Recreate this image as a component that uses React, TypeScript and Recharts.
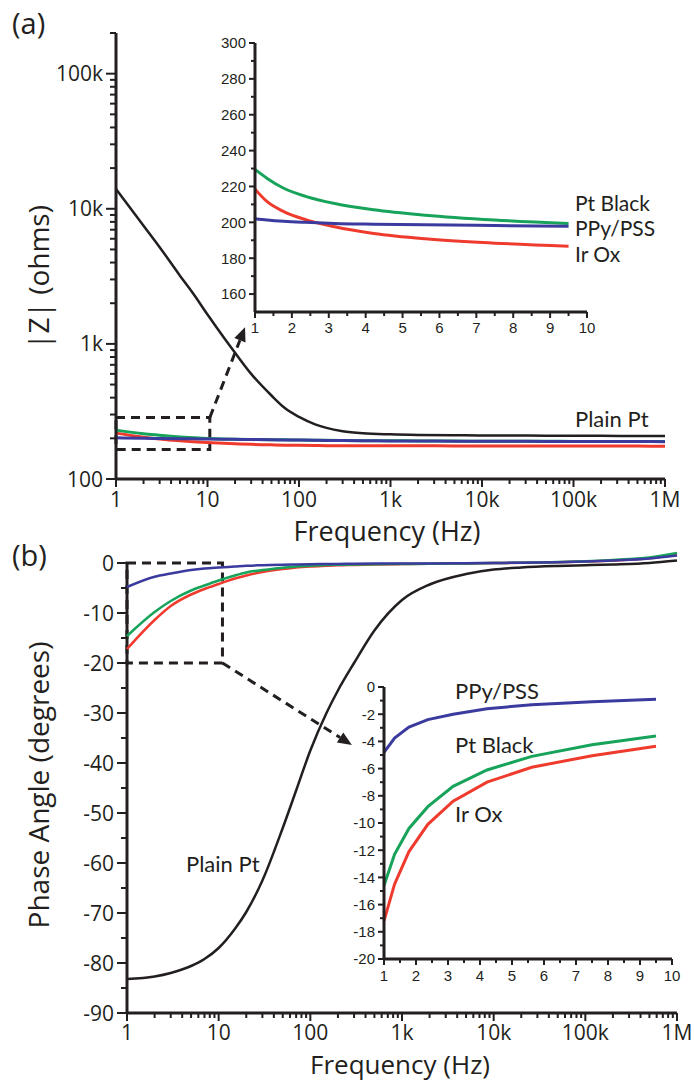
import { LineChart, Line, XAxis, YAxis, ReferenceArea, ReferenceLine } from 'recharts';

const INK = '#231f20';
const GREEN = '#17a35a';
const RED = '#ef3b2d';
const BLUE = '#3b3b9f';
const MAIN_FONT = '"Open Sans", "Noto Sans", sans-serif';
const LABEL_FONT = 'Lato, "Open Sans", sans-serif';
const INSET_FONT = '"Liberation Sans", Arial, sans-serif';

// frequency sweep (Hz)
const freq = [1, 2, 3, 5, 7, 10, 15, 20, 30, 50, 70, 100, 150, 200, 300, 500, 1000, 2000, 5000, 10000, 20000, 50000, 100000, 200000, 500000, 1000000];

// (a) impedance magnitude, ohms
const zPlainPt = [14000, 7500, 5200, 3200, 2350, 1650, 1120, 860, 600, 415, 335, 288, 254, 239, 226, 218, 214, 212, 211, 210, 210, 209, 209, 209, 208, 208];
const zPtBlack = [230, 216, 211, 205, 202, 199.3, 197.5, 196.8, 196, 195.3, 194.8, 194.3, 193.8, 193.3, 192.8, 192.3, 191.8, 191.3, 190.8, 190.4, 190.2, 190, 189.8, 189.6, 189.5, 189.3];
const zPPy = [202, 200, 199.4, 198.7, 198.3, 197.7, 197, 196.5, 195.8, 195, 194.5, 194, 193.5, 193, 192.5, 192, 191.5, 191, 190.5, 190.2, 190, 189.8, 189.6, 189.4, 189.2, 189];
const zIrOx = [218.5, 204, 197.5, 191.5, 188.7, 186.5, 184, 182.5, 180.5, 179, 178, 177.5, 177, 176.5, 176.5, 176.2, 176, 176, 175.8, 175.7, 175.6, 175.5, 175.4, 175.3, 175.2, 175];

// (b) phase angle, degrees
const phPlainPt = [-83.2, -82.7, -82, -80.6, -79.2, -77, -73.2, -69.8, -63.5, -53, -45.5, -37.5, -30, -25.5, -20, -13.5, -7.4, -4.3, -2.2, -1.3, -0.9, -0.6, -0.45, -0.3, 0, 0.5];
const phPtBlack = [-14.6, -9.8, -7.6, -5.5, -4.5, -3.5, -2.5, -1.9, -1.4, -0.95, -0.7, -0.55, -0.4, -0.35, -0.3, -0.25, -0.2, -0.15, -0.1, 0, 0.05, 0.2, 0.35, 0.6, 1.1, 2.0];
const phPPy = [-4.8, -2.75, -2.1, -1.4, -1.1, -0.9, -0.7, -0.55, -0.45, -0.35, -0.3, -0.25, -0.2, -0.18, -0.15, -0.12, -0.1, -0.08, -0.05, 0, 0.05, 0.15, 0.3, 0.5, 0.9, 1.5];
const phIrOx = [-17.2, -11.4, -8.6, -6.3, -5.2, -4.2, -3.1, -2.5, -1.8, -1.2, -0.9, -0.7, -0.55, -0.45, -0.38, -0.3, -0.22, -0.15, -0.1, -0.02, 0.05, 0.15, 0.3, 0.5, 0.95, 1.7];

// insets: 1–10 Hz on a linear axis
const insetX = [1, 1.33, 1.78, 2.37, 3.16, 4.22, 5.62, 7.5, 9.5];
const zInsetPtBlack = [229.5, 224.5, 219, 214.5, 210.5, 207, 204, 201.3, 199.3];
const zInsetPPy = [202, 201.3, 200.6, 200, 199.4, 199, 198.6, 198.2, 197.8];
const zInsetIrOx = [218.5, 211.5, 206, 201.5, 197.5, 193.8, 190.8, 188.4, 186.7];
const phInsetPtBlack = [-14.6, -12.3, -10.4, -8.8, -7.3, -6.1, -5.1, -4.25, -3.6];
const phInsetPPy = [-4.8, -3.75, -2.95, -2.4, -2.0, -1.6, -1.3, -1.08, -0.9];
const phInsetIrOx = [-17.2, -14.5, -12.1, -10.1, -8.4, -7.0, -5.9, -5.05, -4.35];

// tick values and labels
const freqMajors = [1, 10, 100, 1000, 10000, 100000, 1000000];
const freqLabels = ['1', '10', '100', '1k', '10k', '100k', '1M'];
const zMajors = [100, 1000, 10000, 100000];
const zLabels = ['100', '1k', '10k', '100k'];
const phMajors = [-90, -80, -70, -60, -50, -40, -30, -20, -10, 0];
const phLabels = ['-90', '-80', '-70', '-60', '-50', '-40', '-30', '-20', '-10', '0'];
const insetXMajors = [1, 2, 3, 4, 5, 6, 7, 8, 9, 10];
const insetXLabels = ['1', '2', '3', '4', '5', '6', '7', '8', '9', '10'];
const insetZMajors = [160, 180, 200, 220, 240, 260, 280, 300];
const insetZLabels = ['160', '180', '200', '220', '240', '260', '280', '300'];
const insetPhMajors = [-20, -18, -16, -14, -12, -10, -8, -6, -4, -2, 0];
const insetPhLabels = ['-20', '-18', '-16', '-14', '-12', '-10', '-8', '-6', '-4', '-2', '0'];

// minor tick positions
const logTicks = (lo: number, hi: number) => {
  const out: number[] = [];
  for (let d = lo; d < hi; d *= 10) for (let k = 1; k < 10; k++) out.push(d * k);
  out.push(hi);
  return out;
};
const stepTicks = (lo: number, hi: number, step: number) => {
  const out: number[] = [];
  for (let v = lo; v <= hi + 1e-9; v += step) out.push(Math.round(v * 100) / 100);
  return out;
};

const freqTicks = logTicks(1, 1000000);
const zTicks = [...logTicks(100, 100000), 200000];
const phTicks = stepTicks(-90, 0, 5);
const insetXTicks = stepTicks(1, 10, 0.5);
const insetZTicks = stepTicks(150, 300, 10).filter((v) => v > 150);
const insetPhTicks = stepTicks(-20, 0, 1);

const mainData = freq.map((f, i) => ({
  f,
  zPlainPt: zPlainPt[i], zPtBlack: zPtBlack[i], zPPy: zPPy[i], zIrOx: zIrOx[i],
  phPlainPt: phPlainPt[i], phPtBlack: phPtBlack[i], phPPy: phPPy[i], phIrOx: phIrOx[i],
}));
const insetData = insetX.map((x, i) => ({
  x,
  zPtBlack: zInsetPtBlack[i], zPPy: zInsetPPy[i], zIrOx: zInsetIrOx[i],
  phPtBlack: phInsetPtBlack[i], phPPy: phInsetPPy[i], phIrOx: phInsetIrOx[i],
}));

function BottomTick(props: any) {
  const { x = 0, y = 0, payload, majors, labels, fontSize, fontFamily, majorLen, minorLen, dy } = props;
  const i = majors.indexOf(payload.value);
  return (
    <g>
      <line x1={x} y1={y} x2={x} y2={y + (i >= 0 ? majorLen : minorLen)} stroke={INK} strokeWidth={2} />
      {i >= 0 && (
        <text x={x} y={y + dy} textAnchor="middle" fontSize={fontSize} fontFamily={fontFamily} fill={INK}>
          {labels[i]}
        </text>
      )}
    </g>
  );
}

function LeftTick(props: any) {
  const { x = 0, y = 0, payload, majors, labels, fontSize, fontFamily, majorLen, minorLen, gap } = props;
  const i = majors.indexOf(payload.value);
  return (
    <g>
      <line x1={x - (i >= 0 ? majorLen : minorLen)} y1={y} x2={x} y2={y} stroke={INK} strokeWidth={2} />
      {i >= 0 && (
        <text x={x - gap} y={y} dy="0.36em" textAnchor="end" fontSize={fontSize} fontFamily={fontFamily} fill={INK}>
          {labels[i]}
        </text>
      )}
    </g>
  );
}

// dashed leader with a solid arrow head at (x2, y2)
function DashedArrow(props: any) {
  const { x1, y1, x2, y2 } = props;
  const dx = x2 - x1;
  const dy = y2 - y1;
  const len = Math.sqrt(dx * dx + dy * dy);
  const ux = dx / len;
  const uy = dy / len;
  const head = 14;
  const half = 6;
  const bx = x2 - ux * head;
  const by = y2 - uy * head;
  return (
    <g>
      <line x1={x1} y1={y1} x2={bx} y2={by} stroke={INK} strokeWidth={3} strokeDasharray="9 6" />
      <polygon
        points={`${x2},${y2} ${bx - uy * half},${by + ux * half} ${bx + uy * half},${by - ux * half}`}
        fill={INK}
      />
    </g>
  );
}

const axisLine = { stroke: INK, strokeWidth: 3 };

export default function App() {
  return (
    <div style={{ position: 'absolute', left: 0, top: 0, width: 694, height: 1083, background: '#fff' }}>
      {/* (a) impedance magnitude */}
      <div style={{ position: 'absolute', left: 0, top: 0 }}>
        <LineChart width={694} height={560} data={mainData} margin={{ top: 33, right: 29, bottom: 0, left: 0 }}>
          <XAxis
            dataKey="f" type="number" scale="log" domain={[1, 1000000]} ticks={freqTicks} interval={0}
            height={81} axisLine={axisLine} tickLine={false} tickSize={0} tickMargin={0}
            tick={<BottomTick majors={freqMajors} labels={freqLabels} fontSize={21} fontFamily={MAIN_FONT} majorLen={8} minorLen={5} dy={28} />}
          />
          <YAxis
            type="number" scale="log" domain={[100, 200000]} ticks={zTicks} interval={0}
            width={116} axisLine={axisLine} tickLine={false} tickSize={0} tickMargin={0}
            tick={<LeftTick majors={zMajors} labels={zLabels} fontSize={21} fontFamily={MAIN_FONT} majorLen={10} minorLen={6} gap={13} />}
          />
          <ReferenceArea x1={1} x2={10.6} y1={165} y2={285} fill="none" stroke={INK} strokeWidth={3} strokeDasharray="9 6" ifOverflow="visible" />
          <ReferenceLine segment={[{ x: 10.6, y: 285 }, { x: 25.7, y: 1330 }]} ifOverflow="visible" shape={(p: any) => <DashedArrow {...p} />} />
          <Line dataKey="zPlainPt" type="monotone" stroke={INK} strokeWidth={2.5} dot={false} isAnimationActive={false} />
          <Line dataKey="zIrOx" type="monotone" stroke={RED} strokeWidth={3} dot={false} isAnimationActive={false} />
          <Line dataKey="zPtBlack" type="monotone" stroke={GREEN} strokeWidth={3} dot={false} isAnimationActive={false} />
          <Line dataKey="zPPy" type="monotone" stroke={BLUE} strokeWidth={3} dot={false} isAnimationActive={false} />
        </LineChart>
      </div>

      {/* (a) inset, 1-10 Hz */}
      <div style={{ position: 'absolute', left: 200, top: 20 }}>
        <LineChart width={420} height={340} data={insetData} margin={{ top: 23, right: 33, bottom: 0, left: 0 }}>
          <XAxis
            dataKey="x" type="number" domain={[1, 10]} ticks={insetXTicks} interval={0}
            height={48} axisLine={axisLine} tickLine={false} tickSize={0} tickMargin={0}
            tick={<BottomTick majors={insetXMajors} labels={insetXLabels} fontSize={15} fontFamily={INSET_FONT} majorLen={6} minorLen={4} dy={21} />}
          />
          <YAxis
            type="number" domain={[150, 300]} ticks={insetZTicks} interval={0}
            width={55} axisLine={axisLine} tickLine={false} tickSize={0} tickMargin={0}
            tick={<LeftTick majors={insetZMajors} labels={insetZLabels} fontSize={15} fontFamily={INSET_FONT} majorLen={6} minorLen={4} gap={9} />}
          />
          <Line dataKey="zIrOx" type="monotone" stroke={RED} strokeWidth={3} dot={false} isAnimationActive={false} />
          <Line dataKey="zPtBlack" type="monotone" stroke={GREEN} strokeWidth={3} dot={false} isAnimationActive={false} />
          <Line dataKey="zPPy" type="monotone" stroke={BLUE} strokeWidth={3} dot={false} isAnimationActive={false} />
        </LineChart>
      </div>

      {/* (b) phase angle */}
      <div style={{ position: 'absolute', left: 0, top: 540 }}>
        <LineChart width={694} height={543} data={mainData} margin={{ top: 8, right: 17, bottom: 0, left: 0 }}>
          <XAxis
            dataKey="f" type="number" scale="log" domain={[1, 1000000]} ticks={freqTicks} interval={0}
            height={70} axisLine={axisLine} tickLine={false} tickSize={0} tickMargin={0}
            tick={<BottomTick majors={freqMajors} labels={freqLabels} fontSize={21} fontFamily={MAIN_FONT} majorLen={8} minorLen={5} dy={27} />}
          />
          <YAxis
            type="number" domain={[-90, 3]} ticks={phTicks} interval={0}
            width={127} axisLine={false} tickLine={false} tickSize={0} tickMargin={0}
            tick={<LeftTick majors={phMajors} labels={phLabels} fontSize={21} fontFamily={MAIN_FONT} majorLen={10} minorLen={6} gap={13} />}
          />
          <ReferenceLine segment={[{ x: 1, y: -90 }, { x: 1, y: 0 }]} stroke={INK} strokeWidth={3} ifOverflow="visible" />
          <ReferenceArea x1={1} x2={11} y1={-20} y2={0} fill="none" stroke={INK} strokeWidth={3} strokeDasharray="9 6" ifOverflow="visible" />
          <ReferenceLine segment={[{ x: 11, y: -20 }, { x: 284, y: -36.4 }]} ifOverflow="visible" shape={(p: any) => <DashedArrow {...p} />} />
          <Line dataKey="phPlainPt" type="monotone" stroke={INK} strokeWidth={2.5} dot={false} isAnimationActive={false} />
          <Line dataKey="phIrOx" type="monotone" stroke={RED} strokeWidth={2.5} dot={false} isAnimationActive={false} />
          <Line dataKey="phPtBlack" type="monotone" stroke={GREEN} strokeWidth={2.5} dot={false} isAnimationActive={false} />
          <Line dataKey="phPPy" type="monotone" stroke={BLUE} strokeWidth={2.5} dot={false} isAnimationActive={false} />
        </LineChart>
      </div>

      {/* (b) inset, 1-10 Hz */}
      <div style={{ position: 'absolute', left: 330, top: 670 }}>
        <LineChart width={364} height={330} data={insetData} margin={{ top: 17, right: 22, bottom: 0, left: 0 }}>
          <XAxis
            dataKey="x" type="number" domain={[1, 10]} ticks={insetXTicks} interval={0}
            height={41} axisLine={axisLine} tickLine={false} tickSize={0} tickMargin={0}
            tick={<BottomTick majors={insetXMajors} labels={insetXLabels} fontSize={15} fontFamily={INSET_FONT} majorLen={6} minorLen={4} dy={22} />}
          />
          <YAxis
            type="number" domain={[-20, 0]} ticks={insetPhTicks} interval={0}
            width={54} axisLine={axisLine} tickLine={false} tickSize={0} tickMargin={0}
            tick={<LeftTick majors={insetPhMajors} labels={insetPhLabels} fontSize={15} fontFamily={INSET_FONT} majorLen={6} minorLen={4} gap={9} />}
          />
          <Line dataKey="phIrOx" type="linear" stroke={RED} strokeWidth={3} dot={false} isAnimationActive={false} />
          <Line dataKey="phPtBlack" type="linear" stroke={GREEN} strokeWidth={3} dot={false} isAnimationActive={false} />
          <Line dataKey="phPPy" type="linear" stroke={BLUE} strokeWidth={3} dot={false} isAnimationActive={false} />
        </LineChart>
      </div>

      {/* titles and series labels */}
      <svg width={694} height={1083} style={{ position: 'absolute', left: 0, top: 0, pointerEvents: 'none' }}>
        <g fontFamily={MAIN_FONT} fill={INK}>
          <text x={12} y={34} fontSize={29}>(a)</text>
          <text x={12} y={566} fontSize={29}>(b)</text>
          <text x={387} y={541} fontSize={27} textAnchor="middle">Frequency (Hz)</text>
          <text x={400} y={1074} fontSize={26} textAnchor="middle">Frequency (Hz)</text>
          <text transform="translate(49,277) rotate(-90)" fontSize={28} textAnchor="middle">|Z| (ohms)</text>
          <text transform="translate(49,785) rotate(-90)" fontSize={28} textAnchor="middle">Phase Angle (degrees)</text>
        </g>
        <g fontFamily={LABEL_FONT} fill={INK} fontSize={21}>
          <text x={575} y={427} fontSize={22}>Plain Pt</text>
          <text x={575} y={210.5}>Pt Black</text>
          <text x={575} y={236}>PPy/PSS</text>
          <text x={575} y={261.5}>Ir Ox</text>
          <text x={186} y={872} fontSize={22}>Plain Pt</text>
          <text x={455} y={699} fontSize={22}>PPy/PSS</text>
          <text x={455} y={753} fontSize={22}>Pt Black</text>
          <text x={455} y={822} fontSize={22}>Ir Ox</text>
        </g>
      </svg>
    </div>
  );
}
